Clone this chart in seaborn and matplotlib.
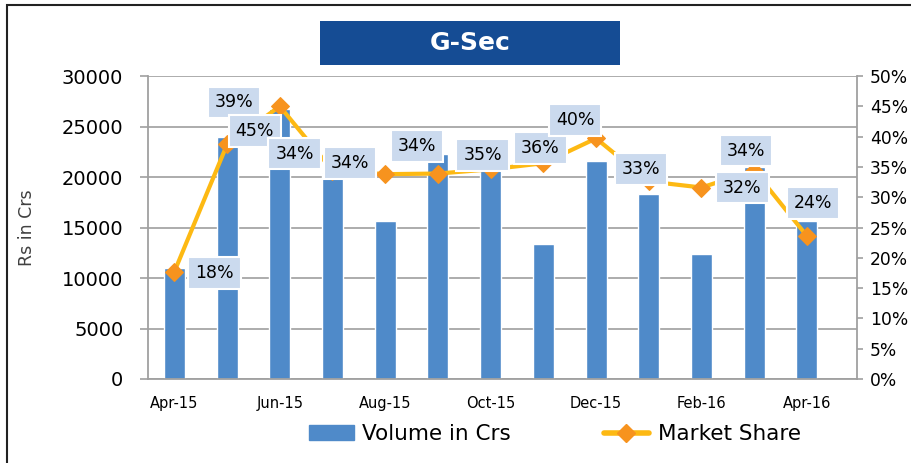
import numpy as np
import pandas as pd
import matplotlib
matplotlib.use('Agg')
import matplotlib.pyplot as plt
import seaborn as sns
from matplotlib.patches import Rectangle, Patch
from matplotlib.lines import Line2D
from matplotlib.ticker import PercentFormatter, MultipleLocator

# data
months = ['Apr-15', 'May-15', 'Jun-15', 'Jul-15', 'Aug-15', 'Sep-15', 'Oct-15',
          'Nov-15', 'Dec-15', 'Jan-16', 'Feb-16', 'Mar-16', 'Apr-16']
volume = [11000, 24000, 26700, 20400, 15600, 22300, 21200,
          13400, 21600, 18300, 12400, 21000, 15600]
share = [17.7, 38.7, 45.0, 34.4, 33.8, 33.9, 34.6,
         35.6, 39.7, 32.6, 31.6, 34.4, 23.6]

# where each data label sits relative to its point (pixels, dragged labels in the original)
label_offsets = [(40, -1), (7, 42), (-25, -25), (-38, 17), (-35, 11), (-21, 28), (-8, 14),
                 (-3, 15), (-21, 18), (-8, 12), (41, 0), (-8, 20), (6, 33)]

BAR = '#4f8ac9'
LINE = '#fdb913'
MARK = '#f7931e'
AXIS = '#a0a0a0'

sns.set_style('white')
plt.rcParams['font.family'] = ['DejaVu Sans']
plt.rcParams['text.color'] = 'black'

df = pd.DataFrame({'month': months, 'volume': volume, 'share': share})
df['pos'] = np.arange(len(df))

fig = plt.figure(figsize=(9.11, 4.63), dpi=100)
ax = fig.add_axes([148 / 911, 1 - 379 / 463, 709 / 911, 303 / 463])

sns.barplot(data=df, x='month', y='volume', ax=ax, color=BAR, width=0.4,
            saturation=1, zorder=2)
ax.set_axisbelow(True)
ax.yaxis.grid(True, color='#a6a6a6', lw=1.3)
ax.set_ylim(0, 30000)
ax.yaxis.set_major_locator(MultipleLocator(5000))
ax.set_xlim(-0.5, 12.95)
ax.set_xticks(range(0, 13, 2))
ax.set_xticklabels(months[::2])
ax.set_xticks(np.arange(-0.5, 13, 1), minor=True)
ax.tick_params(axis='x', which='major', length=0, pad=12, labelsize=10.5,
               labelcolor='black')
ax.tick_params(axis='x', which='minor', length=3.6, width=1.2, color=AXIS, direction='out')
ax.tick_params(axis='y', length=5.8, width=1.2, color=AXIS, direction='out', pad=12,
               labelsize=14, left=True, labelcolor='black')
ax.set_xlabel('')
ax.set_ylabel('')
for s in ['left', 'bottom']:
    ax.spines[s].set_color(AXIS)
    ax.spines[s].set_linewidth(1.3)
ax.spines['top'].set_visible(False)
ax.spines['right'].set_visible(False)

ax2 = ax.twinx()
sns.lineplot(data=df, x='pos', y='share', ax=ax2, color=LINE, lw=3, marker='D',
             markersize=9, markerfacecolor=MARK, markeredgecolor=MARK, zorder=3)
ax2.set_ylim(0, 50)
ax2.yaxis.set_major_locator(MultipleLocator(5))
ax2.yaxis.set_major_formatter(PercentFormatter(decimals=0))
ax2.tick_params(axis='y', length=4.3, width=1.2, color=AXIS, direction='out', pad=5,
                labelsize=12.3, right=True, labelcolor='black')
ax2.set_ylabel('')
ax2.set_xlabel('')
for s in ['left', 'bottom', 'top']:
    ax2.spines[s].set_visible(False)
ax2.spines['right'].set_color(AXIS)
ax2.spines['right'].set_linewidth(1.3)
ax2.set_xlim(-0.5, 12.95)

for i, (v, off) in enumerate(zip(share, label_offsets)):
    ax2.annotate(f'{v:.0f}%', (i, v), xytext=off, textcoords='offset pixels',
                 ha='center', va='center', fontsize=12.5, zorder=6, color='black',
                 bbox=dict(boxstyle='square,pad=0.4', fc='#cbdaee', ec='white', lw=1.5))

# title box
fig.patches.append(Rectangle((320 / 911, 1 - 65 / 463), 300 / 911, 44 / 463,
                             transform=fig.transFigure, fc='#154c94', ec='none'))
fig.text(470 / 911, 1 - 43 / 463, 'G-Sec', color='white', fontsize=18,
         fontweight='bold', ha='center', va='center')

fig.text(27 / 911, 1 - 228 / 463, 'Rs in Crs', rotation=90, ha='center', va='center',
         fontsize=12.5, color='#404040')

# outer frame
fig.patches.append(Rectangle((7 / 911, -0.05), 1.1, 1.05 - 5 / 463,
                             transform=fig.transFigure, fill=False, ec='#222222', lw=1.5))

handles = [Patch(color=BAR),
           Line2D([], [], color=LINE, lw=4, marker='D', markersize=9,
                  markerfacecolor=MARK, markeredgecolor=MARK)]
fig.legend(handles, ['Volume in Crs', 'Market Share'], loc='center',
           bbox_to_anchor=(0.6087, 0.0626), ncol=2, frameon=False, fontsize=15.5,
           handlelength=2.1, handleheight=0.65, handletextpad=0.4, columnspacing=4.3,
           labelcolor='black')

fig.savefig('out.png', dpi=100)
